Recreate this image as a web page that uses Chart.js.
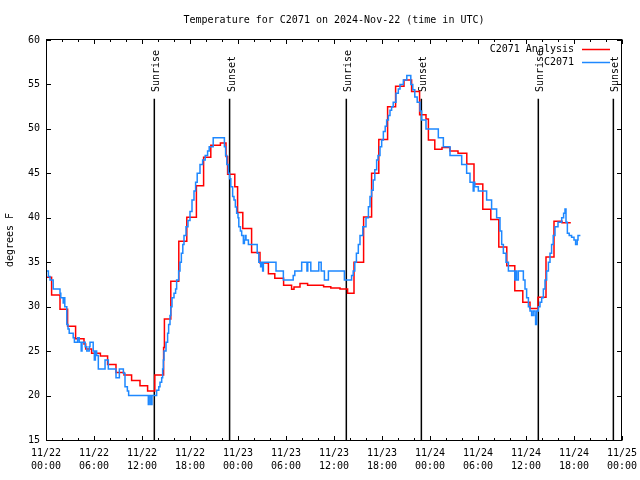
<!DOCTYPE html>
<html>
<head>
<meta charset="utf-8">
<script src="https://cdn.jsdelivr.net/npm/chart.js@4/dist/chart.umd.min.js"></script>
<style>
html,body{margin:0;padding:0;background:#fff;}
canvas{display:block;}
</style>
</head>
<body>
<canvas id="c" width="640" height="480"></canvas>
<script>
// ---------- DATA ----------
const chartTitle = 'Temperature for C2071 on 2024-Nov-22 (time in UTC)';
const yAxisTitle = 'degrees F';
const seriesNames = ['C2071 Analysis', 'C2071'];

// x tick labels (every 6 hours from 11/22 00:00 to 11/25 00:00)
const tickDates = ['11/22','11/22','11/22','11/22','11/23','11/23','11/23','11/23','11/24','11/24','11/24','11/24','11/25'];
const tickTimes = ['00:00','06:00','12:00','18:00','00:00','06:00','12:00','18:00','00:00','06:00','12:00','18:00','00:00'];

// hours since 11/22 00:00 UTC
const sunHours  = [13.54, 22.95, 37.54, 46.92, 61.54, 70.92];
const sunLabels = ['Sunrise','Sunset','Sunrise','Sunset','Sunrise','Sunset'];

// analysis series (step changes)
const analysisHours = [
  0,0.7,1.75,2.7,3.7,4.75,4.96,5.7,6.8,7.7,
  8.75,9.75,10.7,11.75,12.7,13.6,14.7,14.8,15.6,16.6,
  17.6,18.8,19.7,20.6,21.8,22.5,22.7,23.6,23.95,24.6,
  25.7,26.75,27.8,28.6,29.7,30.7,31.0,31.75,32.7,34.7,
  35.6,36.75,37.7,38.5,39.7,40.7,41.6,42.7,43.7,44.75,
  45.7,46.7,47.5,47.8,48.6,49.5,50.5,51.5,52.6,53.5,
  54.6,55.6,56.6,57.6,58.6,59.6,60.5,61.5,62.5,63.5,
  64.5,65.6];
const analysisTemps = [
  33.3,31.3,29.7,27.8,26.4,25.8,25.25,24.75,24.45,23.5,
  22.6,22.3,21.7,21.1,20.5,22.3,25.4,28.6,32.85,37.35,
  40.05,43.6,46.8,48.15,48.4,46.9,44.9,43.5,40.6,38.8,
  36.1,34.9,33.7,33.2,32.4,31.95,32.2,32.6,32.4,32.25,
  32.1,32.0,31.5,35.0,40.1,45.0,48.8,52.5,54.8,55.5,
  54.2,51.6,51.1,48.75,47.7,47.9,47.5,47.25,46.05,43.8,
  40.95,39.8,36.7,34.6,31.8,30.5,29.8,31.05,35.6,39.6,
  39.45,39.45];

// observed series (step changes)
const obsHours = [
  0,0.3,0.5,0.9,1.75,1.85,2.15,2.25,2.35,2.6,
  2.75,2.9,3.4,3.55,3.95,4.15,4.4,4.5,4.9,5.1,
  5.4,5.5,5.9,6.04,6.17,6.33,6.54,7.38,7.79,8.75,
  9.17,9.67,9.875,10.17,10.33,12.79,12.9,13.1,13.25,13.83,
  14.1,14.25,14.46,14.58,14.67,14.75,15.0,15.2,15.33,15.5,
  15.6,15.75,16.0,16.2,16.33,16.58,16.75,16.92,17.1,17.25,
  17.5,17.75,18.0,18.25,18.5,18.7,18.9,19.25,19.58,19.9,
  20.2,20.4,20.9,22.3,22.45,22.6,22.8,22.95,23.1,23.33,
  23.5,23.67,23.83,24.0,24.1,24.3,24.46,24.67,24.8,24.9,
  25.0,25.3,26.4,26.6,26.83,27.0,27.08,27.17,28.75,29.67,
  30.9,31.1,31.96,32.62,32.72,33.1,34.1,34.4,34.8,35.3,
  37.3,38.2,38.4,38.6,38.8,39.04,39.25,39.6,40.0,40.3,
  40.5,40.7,40.9,41.1,41.33,41.5,41.75,41.96,42.17,42.4,
  42.58,42.8,43.0,43.2,43.4,43.75,44.04,44.25,44.67,45.1,
  45.6,45.85,46.1,46.4,46.75,46.96,47.5,49.04,49.67,50.5,
  51.96,52.58,53.0,53.4,53.5,53.6,54.04,55.08,55.7,56.33,
  56.75,56.96,57.17,57.5,57.8,58.6,58.75,58.83,59.04,59.67,
  59.875,60.08,60.3,60.5,60.7,60.9,61.125,61.2,61.33,61.54,
  61.75,61.96,62.17,62.375,62.58,62.8,63.0,63.2,63.4,63.625,
  64.0,64.46,64.7,64.875,65.0,65.17,65.4,65.7,66.0,66.2,
  66.4,66.5,66.8];
const obsTemps = [
  34,33.4,33,32,31.5,31,30.4,31,30,28,
  27.5,27,26.5,26,26.5,26,25,26,25.5,25,
  25.5,26,25,24,25,24.5,23,24,23,22,
  23,22.5,21,20.5,20,19,20,19,20,20.6,
  21,21.5,22,23,24,25,26,27,28,29,
  30,31,31.5,32,33,34,35,36,37,38,
  39,39.7,40.7,42,43,44,45,46,46.5,47,
  47.5,48,49,48,47,46,45,44.4,43.5,42.4,
  42,41.2,40.5,40,39,38.5,38,37.1,37.5,38,
  37.5,37,36,35,34.5,35,34,35,34,33,
  33.5,34,35,34,35,34,35,34,33,34,
  33,33.5,34,35,36,37,38,39,40,41.25,
  42.4,43.1,44.25,45.4,46.5,47,48,48.75,49.7,50.3,
  51,51.5,52.1,52.5,53,54,54.5,55,55.5,56,
  55,54.4,53.6,53,52,51,50,49,48,47,
  46,45,44,43,44,43.5,43,42,41,40,
  38.5,37,36,35,34,33,34,33,34,33,
  32,31,30,29.5,29,29.5,29,28,29.5,30,
  30.5,31,32,33,34,35,36,37,38,39,
  39.5,40,40.5,41,39.5,38.25,38,37.8,37.5,37,
  37.5,38,38];

// ---------- STYLE ----------
const FONT = "'DejaVu Sans Mono', 'Liberation Mono', monospace";
const seriesColors = ['#ff0000', '#1e88ff'];

function toPoints(xs, ys) { return xs.map((x, i) => ({ x: x, y: ys[i] })); }

const gnuplotFrame = {
  id: 'gnuplotFrame',
  beforeDatasetsDraw(chart) {
    const { ctx, chartArea: a, scales: { x, y } } = chart;
    ctx.save();
    ctx.strokeStyle = '#000';
    ctx.lineWidth = 1.5;
    ctx.fillStyle = '#000';
    ctx.font = '10px ' + FONT;
    const yTop = y.getPixelForValue(53.4);
    const yLab = y.getPixelForValue(54.15);
    sunHours.forEach((h, i) => {
      const px = x.getPixelForValue(h);
      ctx.beginPath();
      ctx.moveTo(px, a.bottom);
      ctx.lineTo(px, yTop);
      ctx.stroke();
      ctx.save();
      ctx.translate(px + 5, yLab);
      ctx.rotate(-Math.PI / 2);
      ctx.textAlign = 'left';
      ctx.textBaseline = 'alphabetic';
      ctx.fillText(sunLabels[i], 0, 0);
      ctx.restore();
    });
    ctx.restore();
  },
  afterDraw(chart) {
    const { ctx, chartArea: a, scales: { x, y } } = chart;
    ctx.save();
    // frame
    ctx.strokeStyle = '#000';
    ctx.lineWidth = 1;
    const L = Math.round(a.left) + 0.5, R = Math.round(a.right) - 0.5;
    const T = Math.round(a.top) - 0.5, B = Math.round(a.bottom) + 0.5;
    ctx.strokeRect(L, T, R - L, B - T);
    ctx.beginPath();
    // x ticks: major 6h, minor 2h, inward on bottom and top
    for (let h = 0; h <= 72; h += 2) {
      const px = Math.round(x.getPixelForValue(h)) + 0.5;
      const len = (h % 6 === 0) ? 4.5 : 2.5;
      ctx.moveTo(px, B); ctx.lineTo(px, B - len);
      ctx.moveTo(px, T); ctx.lineTo(px, T + len);
    }
    // y ticks inward on left and right
    y.ticks.forEach(t => {
      const py = Math.round(y.getPixelForValue(t.value)) + 0.5;
      ctx.moveTo(L, py); ctx.lineTo(L + 4.5, py);
      ctx.moveTo(R, py); ctx.lineTo(R - 4.5, py);
    });
    ctx.stroke();

    // title
    ctx.fillStyle = '#000';
    ctx.font = '10px ' + FONT;
    ctx.textAlign = 'center';
    ctx.textBaseline = 'middle';
    ctx.fillText(chartTitle, (a.left + a.right) / 2, 20);

    // legend (gnuplot style, top right inside)
    chart.data.datasets.forEach((ds, i) => {
      const rowY = a.top + 9.5 + i * 13;
      ctx.textAlign = 'right';
      ctx.textBaseline = 'middle';
      ctx.fillStyle = '#000';
      ctx.fillText(ds.label, a.right - 48, rowY);
      ctx.strokeStyle = ds.borderColor;
      ctx.lineWidth = 1.5;
      ctx.beginPath();
      ctx.moveTo(a.right - 40, rowY);
      ctx.lineTo(a.right - 12, rowY);
      ctx.stroke();
    });
    ctx.restore();
  }
};

const tickFont = { family: FONT, size: 10, lineHeight: 1.3 };

new Chart(document.getElementById('c'), {
  type: 'line',
  data: {
    datasets: [
      { label: seriesNames[0], data: toPoints(analysisHours, analysisTemps),
        borderColor: seriesColors[0], borderWidth: 1.5, stepped: true,
        pointRadius: 0, fill: false, order: 1 },
      { label: seriesNames[1], data: toPoints(obsHours, obsTemps),
        borderColor: seriesColors[1], borderWidth: 1.5, stepped: true,
        pointRadius: 0, fill: false, order: 0 }
    ]
  },
  options: {
    responsive: false,
    animation: false,
    devicePixelRatio: 1,
    layout: { padding: { top: 40, right: 18, left: 0, bottom: 0 } },
    plugins: { legend: { display: false }, tooltip: { enabled: false }, title: { display: false } },
    scales: {
      x: {
        type: 'linear', min: 0, max: 72,
        border: { display: false },
        grid: { display: false, drawTicks: false },
        ticks: {
          stepSize: 6, autoSkip: false, maxRotation: 0, minRotation: 0,
          padding: 7, color: '#000', font: tickFont,
          callback: (v, i) => [tickDates[i], tickTimes[i]]
        },
        afterFit: s => { s.height = 40; s.paddingLeft = 0; s.paddingRight = 0; }
      },
      y: {
        min: 15, max: 60,
        border: { display: false },
        grid: { display: false, drawTicks: false },
        ticks: { stepSize: 5, padding: 6, color: '#000', font: { family: FONT, size: 10 } },
        title: { display: true, text: yAxisTitle, color: '#000',
                 padding: { top: 4, bottom: 0 }, font: { family: FONT, size: 10, lineHeight: 1.2 } },
        afterFit: s => { s.width = 46; s.paddingTop = 0; s.paddingBottom = 0; }
      }
    }
  },
  plugins: [gnuplotFrame]
});
</script>
</body>
</html>
